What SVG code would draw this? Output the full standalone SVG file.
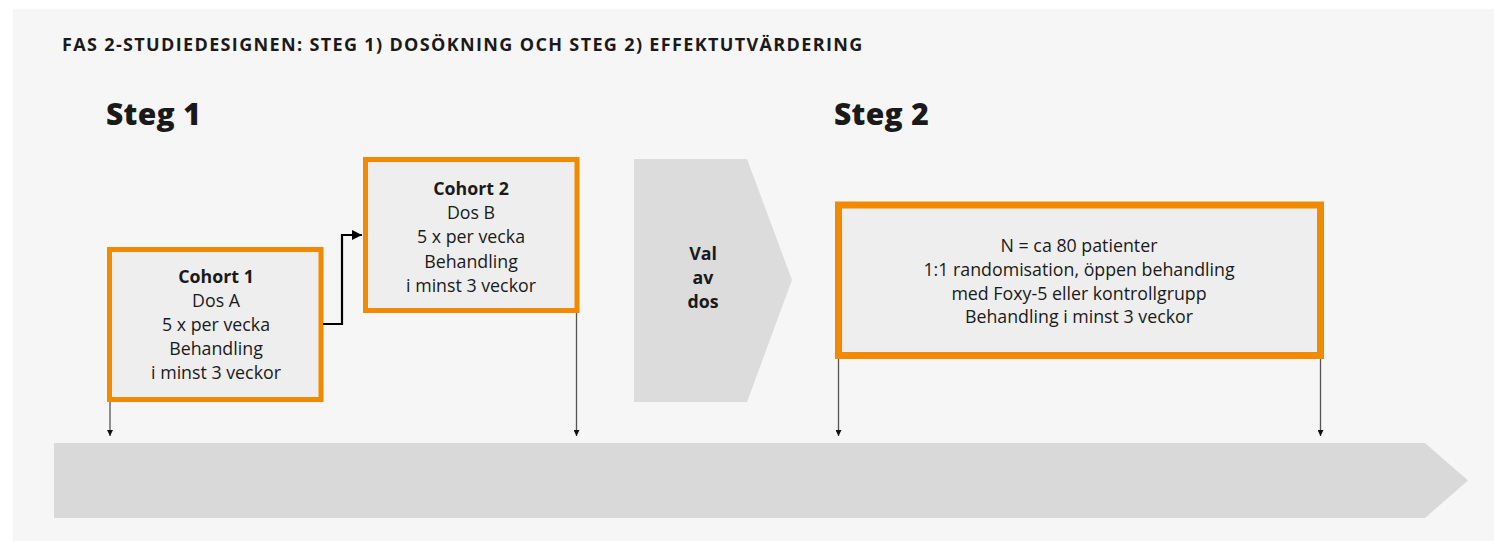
<svg xmlns="http://www.w3.org/2000/svg" width="1494" height="541" viewBox="0 0 1494 541">
  <defs>
    <style>
      text { font-family: "Open Sans", "Noto Sans", "DejaVu Sans", sans-serif; fill: #1a1a1a; }
      .title { font-size: 18px; font-weight: 700; letter-spacing: 1.35px; }
      .stage { font-size: 30px; font-weight: 800; letter-spacing: 0.3px; }
      .lbl { font-size: 17.8px; text-anchor: middle; }
      .b { font-weight: 700; }
      .box { fill: #eeeeee; stroke: #f28a00; }
      .drop { stroke: #555555; stroke-width: 1.3; fill: none; }
    </style>
    <marker id="tip" viewBox="0 0 10 10" refX="10" refY="5" markerWidth="6" markerHeight="6" markerUnits="userSpaceOnUse" orient="auto">
      <path d="M0,0 L10,5 L0,10 z" fill="#111111"/>
    </marker>
    <marker id="tipBold" viewBox="0 0 10 10" refX="10" refY="5" markerWidth="10" markerHeight="10" markerUnits="userSpaceOnUse" orient="auto">
      <path d="M0,0 L10,5 L0,10 z" fill="#000000"/>
    </marker>
  </defs>

  <!-- panel background -->
  <rect x="13" y="9" width="1481" height="532" fill="#f6f6f6"/>

  <text class="title" x="62" y="51">FAS 2-STUDIEDESIGNEN: STEG 1) DOSÖKNING OCH STEG 2) EFFEKTUTVÄRDERING</text>
  <text class="stage" x="106" y="125">Steg 1</text>
  <text class="stage" x="834" y="125">Steg 2</text>

  <!-- timeline bar -->
  <g id="timeline">
    <polygon points="54,443 1425,443 1468,480.5 1425,518 54,518" fill="#d9d9d9"/>
  </g>

  <g id="cohort1">
    <rect class="box" x="109.5" y="249.5" width="211.5" height="150" stroke-width="5"/>
    <text class="lbl" x="216" y="283"><tspan class="b">Cohort 1</tspan></text>
    <text class="lbl" x="216" y="307">Dos A</text>
    <text class="lbl" x="216" y="331">5 x per vecka</text>
    <text class="lbl" x="216" y="355">Behandling</text>
    <text class="lbl" x="216" y="379">i minst 3 veckor</text>
  </g>

  <g id="cohort2">
    <rect class="box" x="365.5" y="159.5" width="211.5" height="151" stroke-width="5"/>
    <text class="lbl" x="471" y="195"><tspan class="b">Cohort 2</tspan></text>
    <text class="lbl" x="471" y="219">Dos B</text>
    <text class="lbl" x="471" y="243">5 x per vecka</text>
    <text class="lbl" x="471" y="268">Behandling</text>
    <text class="lbl" x="471" y="292">i minst 3 veckor</text>
  </g>

  <g id="dose-choice">
    <polygon points="634,159 747,159 792,280 747,402 634,402" fill="#dcdcdc"/>
    <text class="lbl b" x="703" y="260">Val</text>
    <text class="lbl b" x="703" y="284">av</text>
    <text class="lbl b" x="703" y="308">dos</text>
  </g>

  <g id="step2">
    <rect class="box" x="838.5" y="205" width="482" height="150.5" stroke-width="7"/>
    <text class="lbl" x="1079" y="252">N = ca 80 patienter</text>
    <text class="lbl" x="1079" y="276">1:1 randomisation, öppen behandling</text>
    <text class="lbl" x="1079" y="300">med Foxy-5 eller kontrollgrupp</text>
    <text class="lbl" x="1079" y="323">Behandling i minst 3 veckor</text>
  </g>

  <g id="connectors">
    <polyline points="323,324 342,324 342,235 362,235" fill="none" stroke="#000000" stroke-width="2.2" marker-end="url(#tipBold)"/>
    <line class="drop" x1="110" y1="402" x2="110" y2="436" marker-end="url(#tip)"/>
    <line class="drop" x1="576.5" y1="313" x2="576.5" y2="436" marker-end="url(#tip)"/>
    <line class="drop" x1="838.5" y1="359" x2="838.5" y2="436" marker-end="url(#tip)"/>
    <line class="drop" x1="1320.5" y1="359" x2="1320.5" y2="436" marker-end="url(#tip)"/>
  </g>
</svg>
